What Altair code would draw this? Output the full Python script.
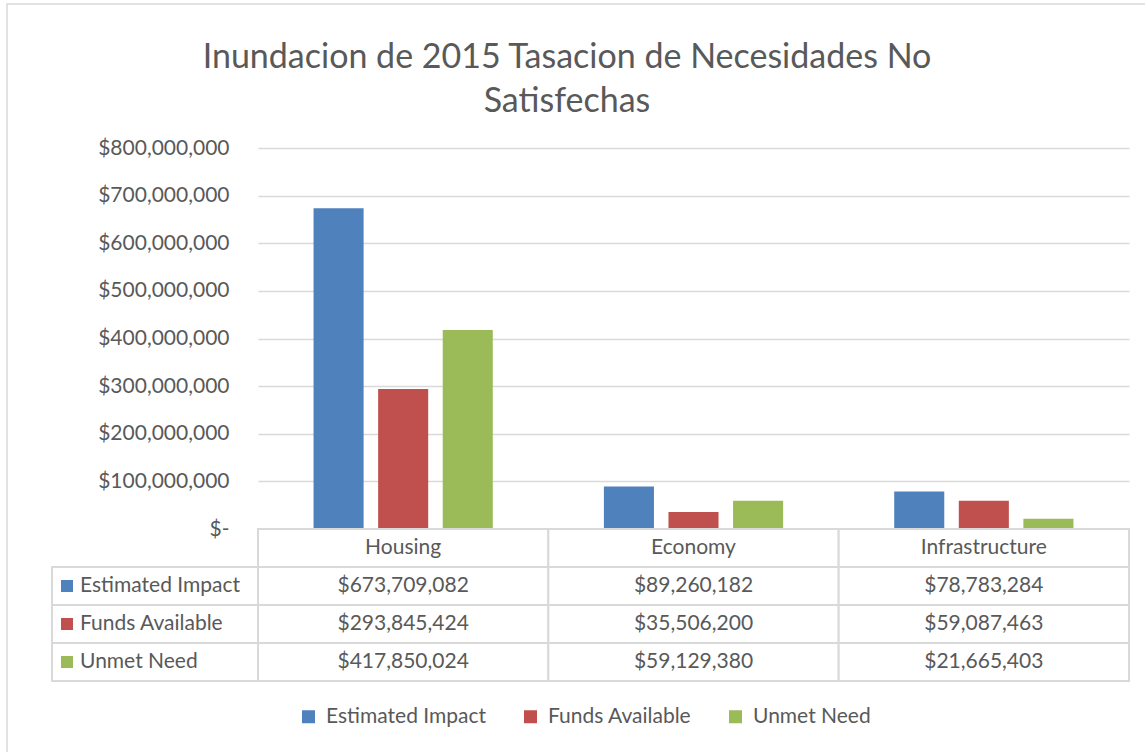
import altair as alt
import pandas as pd

FONT = "Lato"
FS = 21
TXT = "#595959"
GRID = "#d9d9d9"

categories = ["Housing", "Economy", "Infrastructure"]
series = ["Estimated Impact", "Funds Available", "Unmet Need"]
estimated_impact = [673709082, 89260182, 78783284]
funds_available = [293845424, 35506200, 59087463]
unmet_need = [417850024, 59129380, 21665403]
colors = ["#4f81bd", "#c0504d", "#9bbb59"]
y_ticks = [0, 100000000, 200000000, 300000000, 400000000, 500000000, 600000000, 700000000, 800000000]
title_lines = ["Inundacion de 2015 Tasacion de Necesidades No", "Satisfechas"]

rows = []
for i, (s, vals) in enumerate(zip(series, [estimated_impact, funds_available, unmet_need])):
    for c, v in zip(categories, vals):
        rows.append({"category": c, "series": s, "value": v, "row": i, "label": f"${v:,}"})
df = pd.DataFrame(rows)
head = pd.DataFrame({"category": categories})
leg = pd.DataFrame({"series": series, "row": list(range(3))})
one = pd.DataFrame({"a": [1]})

W, H = 871, 381
ROW_H = 38

xscale = alt.Scale(domain=categories, paddingInner=0, paddingOuter=0)
cscale = alt.Scale(domain=series, range=colors)

frame = alt.Chart(one).mark_rect(fill="transparent", stroke=GRID, strokeWidth=1.5).encode(
    x=alt.value(-251), x2=alt.value(W + 30), y=alt.value(-144), y2=alt.value(H + 240)
)

title_layers = []
for k, line in enumerate(title_lines):
    title_layers.append(
        alt.Chart(pd.DataFrame({"t": [line]})).mark_text(
            font=FONT, fontSize=34, color=TXT, baseline="middle", align="center"
        ).encode(x=alt.value(309), y=alt.value(-90 + 44 * k), text="t:N")
    )

bars = alt.Chart(df).mark_bar().encode(
    x=alt.X("category:N", scale=xscale, axis=None, sort=categories),
    xOffset=alt.XOffset("series:N", scale=alt.Scale(domain=series, paddingInner=0.225, paddingOuter=0.86)),
    y=alt.Y("value:Q", stack=None,
            scale=alt.Scale(domain=[0, 800000000], nice=False),
            axis=alt.Axis(values=y_ticks, title=None, grid=True, gridColor=GRID, gridWidth=1.5,
                          domain=False, ticks=False, labelPadding=29, labelFontSize=FS,
                          labelColor=TXT, labelFont=FONT,
                          labelExpr="datum.value == 0 ? '$-\u2002\u2002' : '$' + format(datum.value, ',')")),
    color=alt.Color("series:N", scale=cscale, sort=series,
                    legend=alt.Legend(orient="none", legendX=40, legendY=558, direction="horizontal",
                                      title=None, symbolType="square", symbolSize=169,
                                      symbolStrokeWidth=0, labelFontSize=FS, labelColor=TXT,
                                      labelFont=FONT, columnPadding=33, labelOffset=7,
                                      labelLimit=400)),
)

layers = [frame] + title_layers + [bars]

# header row
layers.append(alt.Chart(head).mark_rect(fill="white", stroke=GRID, strokeWidth=2).encode(
    x=alt.X("category:N", scale=xscale, axis=None, sort=categories),
    y=alt.value(H), y2=alt.value(H + ROW_H)))
layers.append(alt.Chart(head).mark_text(font=FONT, fontSize=FS, color=TXT).encode(
    x=alt.X("category:N", scale=xscale, axis=None, sort=categories),
    y=alt.value(H + ROW_H / 2), text="category:N"))

for i, s in enumerate(series):
    top = H + ROW_H * (i + 1)
    sub = df[df["row"] == i]
    lsub = leg[leg["row"] == i]
    layers.append(alt.Chart(sub).mark_rect(fill="white", stroke=GRID, strokeWidth=2).encode(
        x=alt.X("category:N", scale=xscale, axis=None, sort=categories),
        y=alt.value(top), y2=alt.value(top + ROW_H)))
    layers.append(alt.Chart(sub).mark_text(font=FONT, fontSize=FS, color=TXT).encode(
        x=alt.X("category:N", scale=xscale, axis=None, sort=categories),
        y=alt.value(top + ROW_H / 2), text="label:N"))
    layers.append(alt.Chart(lsub).mark_rect(fill="white", stroke=GRID, strokeWidth=2).encode(
        x=alt.value(-206), x2=alt.value(0), y=alt.value(top), y2=alt.value(top + ROW_H)))
    layers.append(alt.Chart(lsub).mark_square(size=144, opacity=1).encode(
        x=alt.value(-191), y=alt.value(top + ROW_H / 2),
        color=alt.Color("series:N", scale=cscale, sort=series, legend=None)))
    layers.append(alt.Chart(lsub).mark_text(font=FONT, fontSize=FS, color=TXT, align="left").encode(
        x=alt.value(-178), y=alt.value(top + ROW_H / 2), text="series:N"))

chart = alt.layer(*layers).properties(
    width=W, height=H,
    autosize=alt.AutoSizeParams(type="none"),
    padding={"left": 258, "top": 148, "right": 16, "bottom": 223},
).configure(background="white").configure_view(stroke=None)

chart.save("out.html", embed_options={"renderer": "svg", "actions": False})
